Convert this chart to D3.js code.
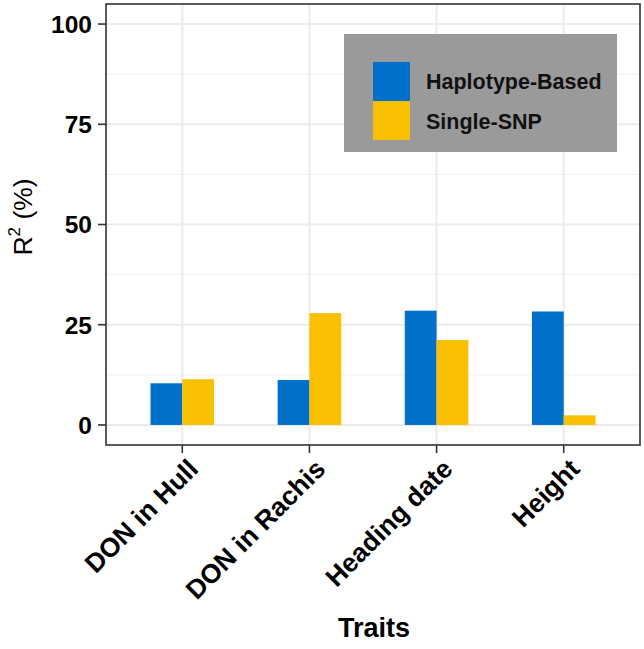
<!DOCTYPE html>
<html><head><meta charset="utf-8">
<script src="https://cdn.jsdelivr.net/npm/d3@7"></script>
<style>body{margin:0;background:#fff}svg{display:block}text{font-family:"Liberation Sans",Arial,sans-serif}</style>
</head><body>
<svg id="c" width="644" height="649"></svg>
<script>
const categories = ["DON in Hull", "DON in Rachis", "Heading date", "Height"];
const seriesNames = ["Haplotype-Based", "Single-SNP"];
const haplotypeValues = [10.4, 11.2, 28.5, 28.3];
const singleSnpValues = [11.4, 27.9, 21.2, 2.4];
const yTicks = [0, 25, 50, 75, 100];
const yMinor = [12.5, 37.5, 62.5, 87.5];
const colors = ["#0070CA", "#F8C000"];

const svg = d3.select("#c");
const L = 106, R = 640, T = 4, B = 445;
const x = d3.scaleBand().domain(categories).range([L, R]).paddingInner(0).paddingOuter(0.1);
const step = x.step();
const xs = d3.scaleBand().domain(seriesNames).range([0.25 * step, 0.75 * step]);
const y = d3.scaleLinear().domain([-5, 105]).range([B, T]);

// grid
const g = svg.append("g");
g.selectAll(".minor").data(yMinor).join("line")
  .attr("x1", L).attr("x2", R).attr("y1", d => y(d)).attr("y2", d => y(d))
  .attr("stroke", "#f0f0f0").attr("stroke-width", 1);
g.selectAll(".major").data(yTicks).join("line")
  .attr("x1", L).attr("x2", R).attr("y1", d => y(d)).attr("y2", d => y(d))
  .attr("stroke", "#ebebeb").attr("stroke-width", 2);
g.selectAll(".vmaj").data(categories).join("line")
  .attr("y1", T).attr("y2", B).attr("x1", d => x(d) + step / 2).attr("x2", d => x(d) + step / 2)
  .attr("stroke", "#ebebeb").attr("stroke-width", 2);

// bars
const data = categories.map((c, i) => ({c, vals: [haplotypeValues[i], singleSnpValues[i]]}));
const bg = svg.append("g");
data.forEach(d => {
  seriesNames.forEach((s, j) => {
    bg.append("rect")
      .attr("x", x(d.c) + xs(s)).attr("width", xs.bandwidth())
      .attr("y", y(d.vals[j])).attr("height", y(0) - y(d.vals[j]))
      .attr("fill", colors[j]);
  });
});

// legend
const lg = svg.append("g");
lg.append("rect").attr("x", 344).attr("y", 34).attr("width", 273).attr("height", 118).attr("fill", "#9a9a9a");
seriesNames.forEach((s, j) => {
  lg.append("rect").attr("x", 373).attr("y", 62 + j * 39).attr("width", 37).attr("height", 39).attr("fill", colors[j]);
  lg.append("text").attr("x", 426).attr("y", 81 + j * 40).attr("dy", "0.36em")
    .attr("font-size", 21.5).attr("font-weight", "bold").attr("fill", "#111").text(s);
});

// panel border
svg.append("rect").attr("x", L).attr("y", T).attr("width", R - L).attr("height", B - T)
  .attr("fill", "none").attr("stroke", "#333").attr("stroke-width", 1.6);

// y axis
const ya = svg.append("g");
yTicks.forEach(t => {
  ya.append("line").attr("x1", L - 8).attr("x2", L).attr("y1", y(t)).attr("y2", y(t)).attr("stroke", "#333").attr("stroke-width", 1.6);
  ya.append("text").attr("x", L - 14).attr("y", y(t)).attr("dy", "0.36em").attr("text-anchor", "end")
    .attr("font-size", 24.5).attr("font-weight", "bold").attr("fill", "#000").text(t);
});
const yt = svg.append("text").attr("transform", "translate(32,217) rotate(-90)").attr("text-anchor", "middle")
  .attr("font-size", 26.5).attr("fill", "#000");
yt.append("tspan").text("R");
yt.append("tspan").attr("font-size", 17).attr("dy", "-0.7em").text("2");
yt.append("tspan").attr("dy", "0.45em").text(" (%)");

// x axis
const xa = svg.append("g");
categories.forEach(c => {
  const cx = x(c) + step / 2;
  xa.append("line").attr("x1", cx).attr("x2", cx).attr("y1", B).attr("y2", B + 8).attr("stroke", "#333").attr("stroke-width", 1.6);
  xa.append("text").attr("transform", `translate(${cx + 4},${B + 12}) rotate(-45)`)
    .attr("text-anchor", "end").attr("dy", "0.72em")
    .attr("font-size", 26.5).attr("font-weight", "bold").attr("fill", "#000").text(c);
});
svg.append("text").attr("x", (L + R) / 2 + 1).attr("y", 637).attr("text-anchor", "middle")
  .attr("font-size", 27).attr("font-weight", "bold").attr("fill", "#000").text("Traits");
</script>
</body></html>
